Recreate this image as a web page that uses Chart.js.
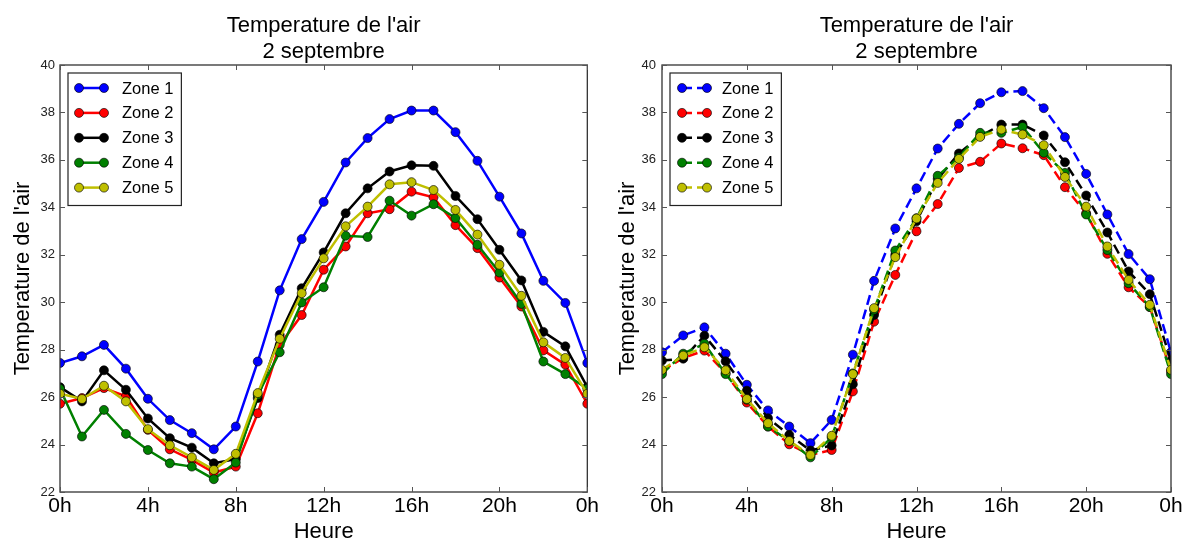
<!DOCTYPE html>
<html>
<head>
<meta charset="utf-8">
<script src="https://cdn.jsdelivr.net/npm/chart.js@4.4.1/dist/chart.umd.min.js"></script>
<style>
  html, body { margin: 0; padding: 0; background: #fff; }
  #wrap { position: relative; width: 1188px; height: 545px; }
  .panel { position: absolute; top: 0; height: 545px; }
  #left { left: 0; width: 601px; }
  #right { left: 600px; width: 588px; }
</style>
</head>
<body>
<div id="wrap">
  <div class="panel" id="left"><canvas id="c1"></canvas></div>
  <div class="panel" id="right"><canvas id="c2"></canvas></div>
</div>
<script>
const hours = [0, 1, 2, 3, 4, 5, 6, 7, 8, 9, 10, 11, 12, 13, 14, 15, 16, 17, 18, 19, 20, 21, 22, 23, 24];
const zoneNames = ['Zone 1', 'Zone 2', 'Zone 3', 'Zone 4', 'Zone 5'];
const zoneColors = ['#0000ff', '#ff0000', '#000000', '#008000', '#bfbf00'];
const chartTitle = ['Temperature de l\'air', '2 septembre'];
const xTitle = 'Heure';
const yTitle = 'Temperature de l\'air';

// left panel (solid lines)
const leftZone1 = [27.44, 27.72, 28.2, 27.2, 25.93, 25.03, 24.48, 23.8, 24.76, 27.5, 30.5, 32.66, 34.23, 35.89, 36.92, 37.72, 38.08, 38.08, 37.17, 35.96, 34.45, 32.9, 30.9, 29.97, 27.44];
const leftZone2 = [25.72, 25.96, 26.38, 26.03, 24.62, 23.8, 23.35, 22.82, 23.07, 25.32, 28.2, 29.46, 31.37, 32.35, 33.75, 33.92, 34.66, 34.42, 33.25, 32.28, 31.04, 29.82, 27.97, 27.37, 25.72];
const leftZone3 = [26.42, 25.82, 27.13, 26.31, 25.1, 24.27, 23.87, 23.21, 23.38, 25.96, 28.63, 30.59, 32.1, 33.75, 34.8, 35.51, 35.77, 35.75, 34.48, 33.5, 32.21, 30.92, 28.75, 28.14, 26.42];
const leftZone4 = [26.35, 24.34, 25.46, 24.45, 23.77, 23.21, 23.07, 22.54, 23.24, 26.1, 27.89, 29.99, 30.63, 32.8, 32.75, 34.28, 33.65, 34.13, 33.55, 32.42, 31.25, 29.93, 27.5, 26.97, 26.35];
const leftZone5 = [26.14, 25.92, 26.48, 25.82, 24.65, 23.97, 23.46, 22.93, 23.61, 26.17, 28.46, 30.38, 31.85, 33.2, 34.03, 34.97, 35.06, 34.73, 33.89, 32.85, 31.58, 30.27, 28.31, 27.65, 26.14];

// right panel (dashed lines)
const rightZone1 = [27.89, 28.6, 28.94, 27.83, 26.52, 25.44, 24.76, 24.06, 25.04, 27.79, 30.9, 33.11, 34.8, 36.48, 37.52, 38.39, 38.85, 38.9, 38.18, 36.96, 35.41, 33.7, 32.03, 30.97, 27.89];
const rightZone2 = [27.1, 27.65, 27.96, 27.01, 25.77, 24.76, 24.01, 23.56, 23.77, 26.24, 29.18, 31.15, 32.99, 34.14, 35.66, 35.92, 36.69, 36.49, 36.2, 34.85, 33.75, 32.04, 30.63, 29.8, 27.1];
const rightZone3 = [27.54, 27.62, 28.59, 27.51, 26.27, 25.11, 24.41, 23.75, 23.96, 26.54, 29.46, 32.0, 33.41, 35.2, 36.27, 37.0, 37.49, 37.49, 37.03, 35.9, 34.5, 32.94, 31.3, 30.34, 27.54];
const rightZone4 = [26.97, 27.83, 28.25, 26.97, 25.89, 24.76, 24.15, 23.46, 24.3, 27.0, 29.68, 32.18, 33.54, 35.33, 36.1, 37.14, 37.14, 37.39, 36.3, 35.45, 33.7, 32.2, 30.8, 29.8, 26.97];
const rightZone5 = [27.15, 27.75, 28.1, 27.13, 25.92, 24.9, 24.15, 23.56, 24.37, 26.97, 29.75, 31.9, 33.53, 35.03, 36.04, 36.97, 37.28, 37.07, 36.62, 35.28, 34.03, 32.35, 30.94, 29.89, 27.15];

const FONT = "'Liberation Sans', Arial, sans-serif";

// matplotlib-like frame, inward ticks, title and legend inside the axes
const mplLook = {
  id: 'mplLook',
  afterDatasetsDraw(chart) {
    const { ctx, chartArea: ca, scales } = chart;
    ctx.save();

    // frame
    ctx.strokeStyle = '#333';
    ctx.lineWidth = 1.3;
    ctx.strokeRect(ca.left, ca.top, ca.right - ca.left, ca.bottom - ca.top);

    // inward ticks on all four sides
    ctx.lineWidth = 1;
    ctx.strokeStyle = '#555';
    ctx.beginPath();
    scales.x.ticks.forEach((t) => {
      const px = Math.round(scales.x.getPixelForValue(t.value)) + 0.5;
      ctx.moveTo(px, ca.bottom); ctx.lineTo(px, ca.bottom - 5);
      ctx.moveTo(px, ca.top); ctx.lineTo(px, ca.top + 5);
    });
    scales.y.ticks.forEach((t) => {
      const py = Math.round(scales.y.getPixelForValue(t.value)) + 0.5;
      ctx.moveTo(ca.left, py); ctx.lineTo(ca.left + 5, py);
      ctx.moveTo(ca.right, py); ctx.lineTo(ca.right - 5, py);
    });
    ctx.stroke();

    // title
    const cx = (ca.left + ca.right) / 2;
    ctx.fillStyle = '#000';
    ctx.font = `22px ${FONT}`;
    ctx.textAlign = 'center';
    ctx.textBaseline = 'alphabetic';
    ctx.fillText(chartTitle[0], cx, 32);
    ctx.fillText(chartTitle[1], cx, 58);

    // legend
    const opts = chart.options.plugins.mplLook;
    const ds = chart.data.datasets;
    ctx.font = `16.5px ${FONT}`;
    const textW = Math.max(...ds.map((d) => ctx.measureText(d.label).width));
    const bx = ca.left + opts.boxOffset;
    const by = ca.top + 8;
    const rowH = 24.9;
    const bw = opts.textOffset - opts.boxOffset + textW + 8;
    const bh = rowH * ds.length + 8;
    ctx.fillStyle = '#fff';
    ctx.fillRect(bx, by, bw, bh);
    ctx.strokeStyle = '#222';
    ctx.lineWidth = 1.2;
    ctx.strokeRect(bx, by, bw, bh);
    ds.forEach((d, i) => {
      const y = by + 15 + i * rowH;
      const x0 = ca.left + opts.sampleOffset;
      const x1 = x0 + 25;
      ctx.strokeStyle = d.borderColor;
      ctx.lineWidth = 2.5;
      ctx.setLineDash(d.borderDash || []);
      ctx.beginPath();
      ctx.moveTo(x0, y); ctx.lineTo(x1, y);
      ctx.stroke();
      ctx.setLineDash([]);
      [x0, x1].forEach((mx) => {
        ctx.beginPath();
        ctx.arc(mx, y, 4.5, 0, Math.PI * 2);
        ctx.fillStyle = d.pointBackgroundColor;
        ctx.fill();
        ctx.lineWidth = 0.8;
        ctx.strokeStyle = 'rgba(0,0,0,0.8)';
        ctx.stroke();
      });
      ctx.fillStyle = '#000';
      ctx.textAlign = 'left';
      ctx.textBaseline = 'middle';
      ctx.fillText(d.label, ca.left + opts.textOffset, y + 1);
    });
    ctx.restore();
  }
};

function makeChart(canvasId, series, dashed, geom) {
  const ctx = document.getElementById(canvasId).getContext('2d');
  return new Chart(ctx, {
    type: 'line',
    data: {
      datasets: series.map((values, i) => ({
        label: zoneNames[i],
        data: hours.map((h, k) => ({ x: h, y: values[k] })),
        borderColor: zoneColors[i],
        backgroundColor: zoneColors[i],
        pointBackgroundColor: zoneColors[i],
        pointBorderColor: 'rgba(0,0,0,0.8)',
        pointBorderWidth: 0.8,
        pointRadius: 4.5,
        borderWidth: 2.5,
        borderDash: dashed ? [10, 5] : [],
        tension: 0,
        order: series.length - i,
      })),
    },
    options: {
      animation: false,
      responsive: true,
      maintainAspectRatio: false,
      events: [],
      layout: { padding: { top: 65, right: geom.padRight, left: 0, bottom: 0 } },
      plugins: {
        legend: { display: false },
        tooltip: { enabled: false },
        title: { display: false },
        mplLook: geom.legend,
      },
      scales: {
        x: {
          type: 'linear',
          min: 0,
          max: 24,
          afterFit: (s) => { s.height = 53; },
          grid: { display: false, drawTicks: false },
          border: { display: false },
          ticks: {
            stepSize: 4,
            padding: 2,
            color: '#000',
            font: { family: FONT, size: 21 },
            callback: (v) => `${v % 24}h`,
          },
          title: {
            display: true,
            text: xTitle,
            color: '#000',
            font: { family: FONT, size: 22 },
            padding: { top: 0, bottom: 0 },
          },
        },
        y: {
          min: 22,
          max: 40,
          afterFit: (s) => { s.width = geom.yWidth; },
          grid: { display: false, drawTicks: false },
          border: { display: false },
          ticks: {
            stepSize: 2,
            padding: geom.yTickPad,
            color: '#222',
            font: { family: FONT, size: 13 },
          },
          title: {
            display: true,
            text: yTitle,
            color: '#000',
            font: { family: FONT, size: 22 },
            padding: { top: geom.yTitlePad, bottom: 0 },
          },
        },
      },
    },
    plugins: [mplLook],
  });
}

makeChart('c1', [leftZone1, leftZone2, leftZone3, leftZone4, leftZone5], false, {
  padRight: 10, yWidth: 60, yTickPad: 5, yTitlePad: 10,
  legend: { boxOffset: 8, sampleOffset: 19, textOffset: 62 },
});
makeChart('c2', [rightZone1, rightZone2, rightZone3, rightZone4, rightZone5], true, {
  padRight: 17, yWidth: 62, yTickPad: 6, yTitlePad: 15,
  legend: { boxOffset: 8, sampleOffset: 20, textOffset: 60 },
});
</script>
</body>
</html>
